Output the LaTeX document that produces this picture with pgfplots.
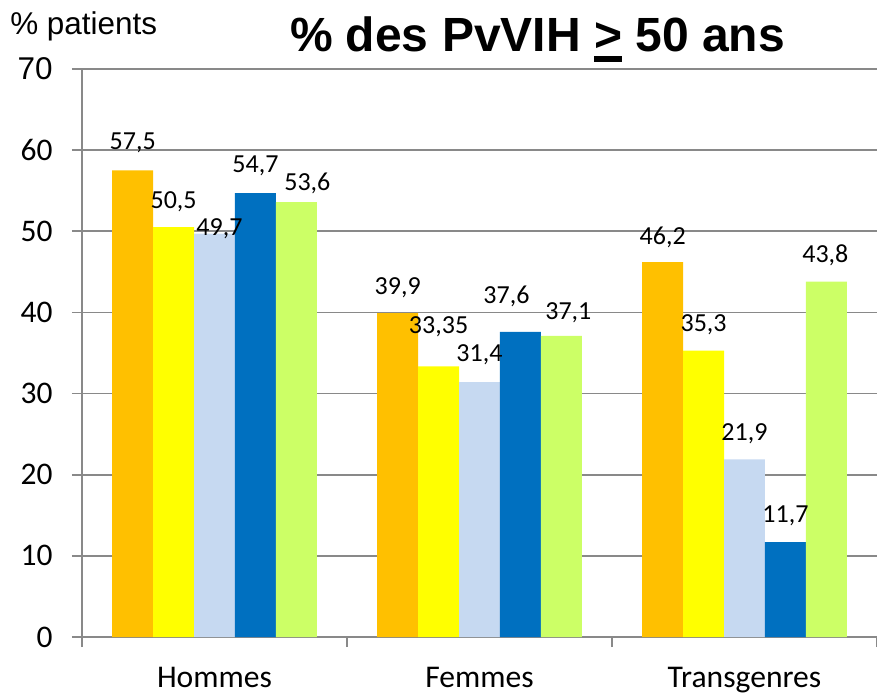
\documentclass[border=0pt]{standalone}
\usepackage{pgfplots}
\pgfplotsset{compat=1.18}
\usepackage{pgfplotstable}
\usepackage{fontspec}
\setmainfont{Carlito}
\newfontfamily\arial{Liberation Sans}
\definecolor{cOrange}{HTML}{FFC000}
\definecolor{cYellow}{HTML}{FFFF00}
\definecolor{cLBlue}{HTML}{C6D9F1}
\definecolor{cBlue}{HTML}{0070C0}
\definecolor{cGreen}{HTML}{CCFF66}
\definecolor{cGrid}{HTML}{898989}
% x y lab dx dy  (dx, dy in px offsets of label centre from bar top)
\pgfplotstableread{
x y lab dx dy
0 57.5 57,5 0 28
1 39.9 39,9 0 26
2 46.2 46,2 0 25
}\tA
\pgfplotstableread{
x y lab dx dy
0 50.5 50,5 0 26
1 33.35 33,35 0 39.5
2 35.3 35,3 0 26
}\tB
\pgfplotstableread{
x y lab dx dy
0 49.7 49,7 5 5
1 31.4 31,4 0 27
2 21.9 21,9 0 26
}\tC
\pgfplotstableread{
x y lab dx dy
0 54.7 54,7 0 27
1 37.6 37,6 -14 36
2 11.7 11,7 0 26
}\tD
\pgfplotstableread{
x y lab dx dy
0 53.6 53,6 11 19
1 37.1 37,1 7 23
2 43.8 43,8 -1 26
}\tE
\begin{document}
\begin{tikzpicture}
\begin{axis}[
  at={(0,0)}, anchor=south west,
  scale only axis,
  width=596.25pt, height=426pt,
  xmin=-0.5, xmax=2.5, ymin=0, ymax=70,
  ybar=0pt, bar width=0.1544,
  axis x line*=bottom, axis y line*=left,
  axis line style={draw=cGrid, line width=1.3pt},
  ytick={0,10,...,70},
  yticklabels={0,10,20,30,40,50,60,{\arial 70}},
  ymajorgrids,
  grid style={draw=cGrid, line width=1.3pt},
  tick align=outside,
  major tick length=7.5pt,
  tick style={draw=cGrid, line width=1.3pt},
  xtick={0,1,2},
  xticklabels={Hommes,Femmes,Transgenres},
  major x tick style={draw=none},
  extra x ticks={-0.5,0.5,1.5,2.5},
  extra x tick labels={},
  extra x tick style={major x tick style={draw=cGrid, line width=1.3pt}, grid=none},
  /pgf/number format/assume math mode=true,
  yticklabel style={font=\fontsize{23.6pt}{26pt}\selectfont, text=black, xshift=-11pt},
  xticklabel style={font=\fontsize{23.7pt}{26pt}\selectfont, text=black, yshift=-12pt},
  nodes near coords,
  point meta=explicit symbolic,
  visualization depends on={\thisrow{dx} \as \ldx},
  visualization depends on={\thisrow{dy} \as \ldy},
  every node near coord/.append style={font=\fontsize{19.5pt}{21pt}\selectfont, text=black, anchor=center,
     xshift={0.75*\ldx*1pt}, yshift={0.75*\ldy*1pt}, inner sep=0pt},
  clip=false,
]
\addplot[fill=cOrange, draw=none] table[x=x, y=y, meta=lab] {\tA};
\addplot[fill=cYellow, draw=none] table[x=x, y=y, meta=lab] {\tB};
\addplot[fill=cLBlue, draw=none] table[x=x, y=y, meta=lab] {\tC};
\addplot[fill=cBlue, draw=none] table[x=x, y=y, meta=lab] {\tD};
\addplot[fill=cGreen, draw=none] table[x=x, y=y, meta=lab] {\tE};
\end{axis}
\node[anchor=base west, inner sep=0pt, font=\arial\fontsize{23.6pt}{26pt}\selectfont] at (-54pt,451.5pt) {\% patients};
\node[anchor=base, inner sep=0pt, font=\arial\bfseries\fontsize{36pt}{40pt}\selectfont] at (341.6pt,438.75pt)
  {\% des PvVIH \makebox[0pt][l]{\rule[-0.2em]{0.584em}{0.12em}}> 50 ans};
\pgfresetboundingbox
\path[use as bounding box] (-61.5pt,-42.75pt) rectangle (596.25pt,477.75pt);
\end{tikzpicture}
\end{document}
